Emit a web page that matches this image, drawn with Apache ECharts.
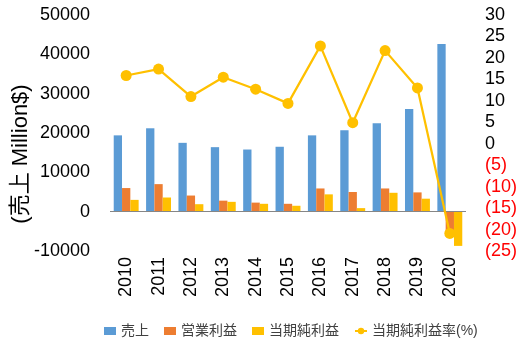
<!DOCTYPE html>
<html>
<head>
<meta charset="utf-8">
<script src="https://cdn.jsdelivr.net/npm/echarts@6/dist/echarts.min.js"></script>
<style>html,body{margin:0;padding:0;background:#fff;}#c{width:527px;height:344px;}</style>
</head>
<body>
<div id="c"></div>
<script>
var years = ['2010','2011','2012','2013','2014','2015','2016','2017','2018','2019','2020'];
var sales = [19400, 21200, 17500, 16400, 15800, 16500, 19400, 20700, 22500, 26100, 42600];
var opProfit = [6000, 7000, 4100, 2800, 2300, 2000, 5900, 5000, 5900, 4900, -6300];
var netProfit = [3000, 3600, 1900, 2500, 2000, 1500, 4400, 900, 4800, 3300, -8700];
var netMargin = [15.9, 17.4, 11.0, 15.5, 12.7, 9.4, 22.8, 4.9, 21.7, 13.0, -20.9];
var seriesNames = ['売上', '営業利益', '当期純利益', '当期純利益率(%)'];
var yAxisTitle = '(売上 Million$)';

var FONT = '"Liberation Sans", "Noto Sans CJK JP", sans-serif';
var chart = echarts.init(document.getElementById('c'));
chart.setOption({
  animation: false,
  backgroundColor: '#fff',
  textStyle: {fontFamily: FONT},
  grid: {left: 110, right: 61, top: 15, bottom: 93, containLabel: false},
  legend: {
    left: 99, top: 319,
    itemWidth: 12, itemHeight: 8, itemGap: 15,
    textStyle: {fontSize: 14, color: '#404040', fontFamily: FONT},
    data: [
      {name: seriesNames[0], icon: 'rect'},
      {name: seriesNames[1], icon: 'rect'},
      {name: seriesNames[2], icon: 'rect'},
      {name: seriesNames[3]}
    ]
  },
  graphic: [{
    type: 'text', x: 21, y: 154, rotation: Math.PI / 2,
    style: {text: yAxisTitle, font: '22px ' + FONT, fill: '#000', align: 'center', verticalAlign: 'middle'}
  }],
  xAxis: {
    type: 'category', data: years,
    axisLine: {show: false}, axisTick: {show: false},
    axisLabel: {rotate: 90, margin: 6, fontSize: 18, color: '#000', interval: 0}
  },
  yAxis: [{
    type: 'value', min: -10000, max: 50000, interval: 10000,
    splitLine: {show: false}, axisLine: {show: false}, axisTick: {show: false},
    axisLabel: {fontSize: 18, color: '#000', margin: 20, formatter: function (v) { return String(v); }}
  }, {
    type: 'value', min: -25, max: 30, interval: 5, position: 'right',
    splitLine: {show: false}, axisLine: {show: false}, axisTick: {show: false},
    axisLabel: {
      fontSize: 18, margin: 19,
      formatter: function (v) { return v < 0 ? '(' + (-v) + ')' : String(v); },
      color: function (v) { return Number(v) < 0 ? '#FF0000' : '#000'; }
    }
  }],
  series: [{
    name: seriesNames[0], type: 'bar', data: sales, yAxisIndex: 0,
    itemStyle: {color: '#5B9BD5'}, barGap: '0%', barCategoryGap: '23%',
    markLine: {
      silent: true, symbol: 'none', label: {show: false},
      lineStyle: {color: '#868686', type: 'solid', width: 1},
      data: [{yAxis: 0}]
    }
  }, {
    name: seriesNames[1], type: 'bar', data: opProfit, yAxisIndex: 0,
    itemStyle: {color: '#ED7D31'}, barGap: '0%', barCategoryGap: '23%'
  }, {
    name: seriesNames[2], type: 'bar', data: netProfit, yAxisIndex: 0,
    itemStyle: {color: '#FFC000'}, barGap: '0%', barCategoryGap: '23%'
  }, {
    name: seriesNames[3], type: 'line', data: netMargin, yAxisIndex: 1,
    symbol: 'circle', symbolSize: 11, z: 5,
    lineStyle: {color: '#FFC000', width: 2.25},
    itemStyle: {color: '#FFC000'}
  }]
});
</script>
</body>
</html>
